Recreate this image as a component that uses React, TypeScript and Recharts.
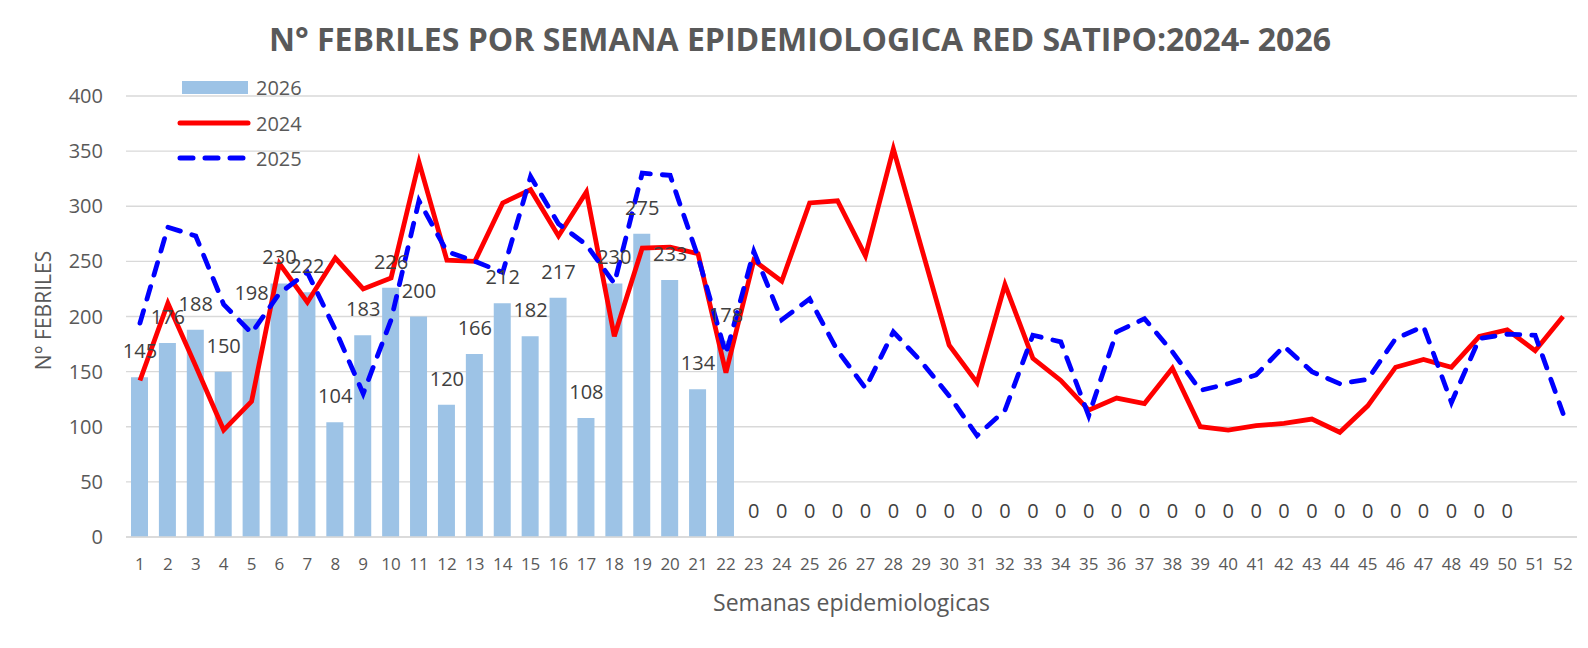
import React from "react";
import {
  ComposedChart,
  Bar,
  Line,
  XAxis,
  YAxis,
  CartesianGrid,
  Legend,
  LabelList,
} from "recharts";

const weeks = [
  "1", "2", "3", "4", "5", "6", "7", "8", "9", "10", "11", "12", "13",
  "14", "15", "16", "17", "18", "19", "20", "21", "22", "23", "24", "25", "26",
  "27", "28", "29", "30", "31", "32", "33", "34", "35", "36", "37", "38", "39",
  "40", "41", "42", "43", "44", "45", "46", "47", "48", "49", "50", "51", "52",
];

const cases2026: (number | null)[] = [
  145, 176, 188, 150, 198, 230, 222, 104, 183, 226, 200, 120, 166, 212, 182,
  217, 108, 230, 275, 233, 134, 178, 0, 0, 0, 0, 0, 0, 0, 0, 0, 0, 0, 0, 0, 0,
  0, 0, 0, 0, 0, 0, 0, 0, 0, 0, 0, 0, 0, 0, null, null,
];

const cases2024 = [
  142, 212, 155, 97, 123, 248, 213, 253, 225, 235, 340, 251, 250, 303, 315,
  273, 313, 182, 262, 263, 257, 149, 251, 232, 303, 305, 255, 352, 263, 174,
  140, 229, 162, 142, 115, 126, 121, 153, 100, 97, 101, 103, 107, 95, 119, 154,
  161, 154, 182, 188, 169, 200,
];

const cases2025 = [
  194, 281, 273, 211, 185, 221, 240, 188, 130, 197, 305, 259, 250, 240, 327,
  284, 265, 230, 330, 328, 254, 166, 259, 197, 216, 169, 135, 186, 159, 128,
  92, 115, 183, 177, 110, 186, 198, 168, 133, 139, 147, 173, 150, 139, 143, 180,
  191, 122, 180, 184, 183, 112,
];

const yTicks = [0, 50, 100, 150, 200, 250, 300, 350, 400];

const data = weeks.map((w, i) => ({
  week: w,
  c2026: cases2026[i],
  c2024: cases2024[i],
  c2025: cases2025[i],
}));

const FONT = "'Open Sans', sans-serif";
const GRAY = "#595959";

const PointLabel = (props: any) => {
  const { x, y, value } = props;
  if (value === null || value === undefined) return null;
  return (
    <text
      x={Number(x)}
      y={Number(y) - 19}
      textAnchor="middle"
      fill="#404040"
      fontSize={20}
      fontFamily={FONT}
    >
      {value}
    </text>
  );
};

const YTitle = (props: any) => {
  const vb = props.viewBox || { x: 0, y: 96, width: 126, height: 440 };
  const x = vb.x + 43;
  const y = vb.y + vb.height / 2 - 6;
  return (
    <text
      x={x}
      y={y}
      transform={`rotate(-90 ${x} ${y})`}
      textAnchor="middle"
      dominantBaseline="central"
      fill={GRAY}
      fontSize={21}
      fontFamily={FONT}
    >
      N° FEBRILES
    </text>
  );
};

const LegendContent = () => (
  <svg width={160} height={100} style={{ overflow: "visible" }}>
    <rect x={4} y={3} width={66} height={13} fill="#9DC3E6" />
    <text x={78} y={9} dominantBaseline="central" fontSize={20} fill={GRAY} fontFamily={FONT}>
      2026
    </text>
    <line x1={2} y1={45} x2={70} y2={45} stroke="#FF0000" strokeWidth={5} strokeLinecap="round" />
    <text x={78} y={45} dominantBaseline="central" fontSize={20} fill={GRAY} fontFamily={FONT}>
      2024
    </text>
    <line
      x1={2}
      y1={80}
      x2={70}
      y2={80}
      stroke="#0000FF"
      strokeWidth={5}
      strokeLinecap="round"
      strokeDasharray="13 12"
    />
    <text x={78} y={80} dominantBaseline="central" fontSize={20} fill={GRAY} fontFamily={FONT}>
      2025
    </text>
  </svg>
);

export default function App() {
  return (
    <div
      style={{
        position: "absolute",
        left: 0,
        top: 0,
        width: 1588,
        height: 648,
        background: "#ffffff",
        fontFamily: FONT,
      }}
    >
      <div
        style={{
          position: "absolute",
          left: 800,
          top: 20,
          transform: "translateX(-50%)",
          whiteSpace: "nowrap",
          fontSize: 32,
          lineHeight: "38px",
          fontWeight: 700,
          color: GRAY,
          fontFamily: FONT,
          zIndex: 2,
        }}
      >
        N° FEBRILES POR SEMANA EPIDEMIOLOGICA RED SATIPO:2024- 2026
      </div>
      <ComposedChart
        width={1588}
        height={648}
        data={data}
        margin={{ top: 96, right: 11, left: 0, bottom: 0 }}
      >
        <CartesianGrid vertical={false} stroke="#d9d9d9" strokeWidth={1.3} />
        <XAxis
          dataKey="week"
          interval={0}
          height={111}
          axisLine={{ stroke: "#d9d9d9", strokeWidth: 1.3 }}
          tickLine={false}
          tickSize={0}
          tickMargin={21}
          tick={{ fill: GRAY, fontSize: 17, fontFamily: FONT }}
          label={{
            value: "Semanas epidemiologicas",
            position: "insideBottom",
            offset: 37,
            fill: GRAY,
            fontSize: 23,
            fontFamily: FONT,
          }}
        />
        <YAxis
          width={126}
          domain={[0, 400]}
          ticks={yTicks}
          interval={0}
          axisLine={false}
          tickLine={false}
          tickSize={0}
          tickMargin={23}
          tick={{ fill: GRAY, fontSize: 20, fontFamily: FONT }}
          label={<YTitle />}
        />
        <Legend
          layout="horizontal"
          verticalAlign="middle"
          align="center"
          wrapperStyle={{ left: 178, top: 78, width: 160, height: 100 }}
          content={<LegendContent />}
        />
        <Bar dataKey="c2026" name="2026" fill="#9DC3E6" barSize={17} isAnimationActive={false} />
        <Line
          type="linear"
          dataKey="c2026"
          name="labels2026"
          stroke="none"
          dot={false}
          activeDot={false}
          legendType="none"
          isAnimationActive={false}
        >
          <LabelList dataKey="c2026" content={<PointLabel />} />
        </Line>
        <Line
          type="linear"
          dataKey="c2024"
          name="2024"
          stroke="#FF0000"
          strokeWidth={4.8}
          dot={false}
          activeDot={false}
          isAnimationActive={false}
        />
        <Line
          type="linear"
          dataKey="c2025"
          name="2025"
          stroke="#0000FF"
          strokeWidth={4.8}
          strokeDasharray="13 12"
          strokeLinecap="round"
          dot={false}
          activeDot={false}
          isAnimationActive={false}
        />
      </ComposedChart>
    </div>
  );
}
